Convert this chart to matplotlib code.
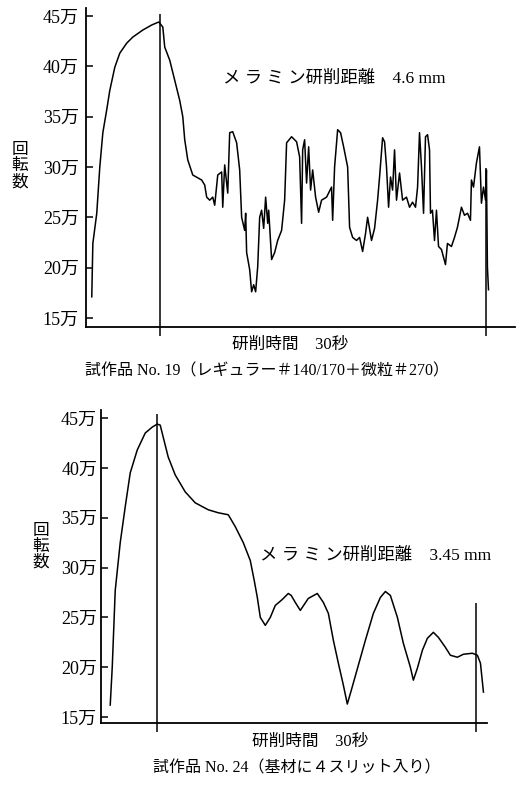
import matplotlib.pyplot as plt

plt.rcParams['font.family'] = ['Liberation Serif', 'Noto Sans CJK JP']

# 試作品 No.19 : time (s) vs spindle speed (万 rpm)
t19 = [-6.26, -6.16, -5.80, -5.52, -5.24, -4.88, -4.60, -4.14, -3.68, -3.04,
       -2.48, -1.56, -0.74, -0.09, 0.28, 0.46, 0.92, 1.38, 1.84, 2.12,
       2.30, 2.58, 3.04, 3.86, 4.14, 4.32, 4.60, 4.88, 5.06, 5.34,
       5.70, 5.80, 5.98, 6.26, 6.44, 6.72, 7.08, 7.36, 7.54, 7.82,
       7.91, 8.00, 8.28, 8.46, 8.65, 8.83, 9.02, 9.20, 9.38, 9.57,
       9.75, 9.94, 10.03, 10.30, 10.58, 10.86, 11.22, 11.50, 11.59, 11.68,
       12.14, 12.60, 12.88, 13.06, 13.16, 13.34, 13.52, 13.71, 13.89, 14.08,
       14.35, 14.63, 14.90, 15.36, 15.82, 15.92, 16.10, 16.38, 16.65, 16.93,
       17.30, 17.48, 17.76, 18.12, 18.40, 18.68, 18.95, 19.14, 19.50, 19.78,
       20.06, 20.24, 20.52, 20.70, 20.88, 21.07, 21.25, 21.44, 21.62, 21.80,
       22.08, 22.36, 22.72, 23.00, 23.28, 23.55, 23.74, 23.92, 24.10, 24.29,
       24.47, 24.66, 24.84, 24.93, 25.11, 25.30, 25.48, 25.67, 25.94, 26.31,
       26.49, 26.86, 27.14, 27.41, 27.78, 28.06, 28.34, 28.61, 28.70, 28.89,
       29.16, 29.44, 29.62, 29.81, 30.00, 30.08, 30.17, 30.27]
rpm19 = [17.1, 22.4, 25.4, 30.0, 33.4, 35.7, 37.6, 39.9, 41.3, 42.3,
         42.9, 43.6, 44.1, 44.4, 43.9, 41.9, 40.6, 38.6, 36.6, 35.0,
         32.7, 30.7, 29.2, 28.7, 28.2, 27.0, 26.7, 27.0, 26.2, 29.2,
         29.5, 26.0, 30.2, 27.4, 33.4, 33.5, 32.4, 29.7, 25.0, 23.7,
         25.4, 21.5, 19.8, 17.6, 18.3, 17.6, 20.1, 25.0, 25.7, 23.9,
         27.0, 24.4, 25.7, 20.8, 21.5, 22.7, 23.7, 26.7, 29.4, 32.4,
         33.0, 32.5, 31.0, 24.4, 31.7, 32.7, 28.4, 32.0, 27.7, 29.7,
         27.0, 25.5, 26.7, 27.0, 28.0, 24.7, 30.0, 33.7, 33.4, 32.0,
         30.0, 24.0, 23.0, 22.7, 23.0, 21.6, 23.4, 25.0, 22.7, 23.9,
         26.7, 29.0, 32.9, 32.5, 30.0, 26.0, 29.0, 27.7, 31.7, 26.7,
         29.4, 26.7, 27.0, 26.0, 26.5, 26.0, 28.0, 33.4, 30.0, 25.4,
         33.0, 33.2, 31.7, 25.4, 25.7, 22.7, 25.7, 22.1, 21.8, 20.3,
         22.4, 22.1, 23.0, 24.0, 26.0, 25.2, 25.4, 24.7, 28.7, 28.0,
         30.4, 32.0, 26.4, 28.0, 26.7, 29.7, 20.1, 17.8]

# 試作品 No.24
t24 = [-4.42, -4.23, -3.95, -3.48, -3.01, -2.54, -1.88, -1.13, -0.47, 0.00,
       0.28, 0.56, 1.03, 1.69, 2.63, 3.57, 4.80, 5.74, 6.68, 7.34,
       8.09, 8.75, 9.12, 9.41, 9.69, 10.16, 10.63, 11.10, 11.76, 12.32,
       12.60, 12.98, 13.45, 14.20, 15.05, 15.62, 16.09, 16.56, 17.03, 17.50,
       17.87, 18.25, 18.91, 19.57, 20.32, 20.98, 21.45, 21.92, 22.58, 23.14,
       23.80, 24.08, 24.46, 24.93, 25.40, 25.96, 26.43, 27.09, 27.56, 28.22,
       28.79, 29.63, 30.10, 30.39, 30.67]
rpm24 = [16.2, 20.0, 27.7, 32.5, 36.1, 39.5, 41.8, 43.5, 44.1, 44.4,
         44.3, 43.1, 41.1, 39.3, 37.6, 36.5, 35.8, 35.5, 35.3, 34.1,
         32.5, 30.7, 28.7, 27.0, 25.0, 24.2, 25.0, 26.2, 26.8, 27.4,
         27.2, 26.5, 25.7, 26.9, 27.4, 26.5, 25.4, 22.7, 20.4, 18.2,
         16.3, 17.7, 20.2, 22.7, 25.4, 27.0, 27.6, 27.2, 25.0, 22.4,
         20.0, 18.7, 19.9, 21.7, 22.9, 23.5, 23.0, 22.0, 21.2, 21.0,
         21.3, 21.4, 21.2, 20.4, 17.5]

yticks = [15, 20, 25, 30, 35, 40, 45]
ytick_labels = [f'{v}万' for v in yticks]
grind_start, grind_end = 0, 30

fig = plt.figure(figsize=(5.27, 7.88), dpi=100)


def panel(rect, t, rpm, xlim, ylim, end_top, start_top, note, note_xy, pad):
    ax = fig.add_axes(rect)
    ax.plot(t, rpm, color='black', lw=1.1)
    ax.set_xlim(*xlim)
    ax.set_ylim(*ylim)
    ax.set_yticks(yticks)
    ax.set_yticklabels(ytick_labels)
    ax.set_xticks([])
    ax.tick_params(axis='y', direction='in', length=5, width=1.1,
                   labelsize=13, pad=pad)
    for s in ('top', 'right'):
        ax.spines[s].set_visible(False)
    for s in ('left', 'bottom'):
        ax.spines[s].set_linewidth(1.3)
    low = ylim[0] - 0.9
    ax.vlines(grind_start, low, start_top, color='black', lw=1.1, clip_on=False)
    ax.vlines(grind_end, low, end_top, color='black', lw=1.1, clip_on=False)
    ax.text(*note_xy, note, fontsize=12.5, ha='left', va='center')
    return ax


panel([0.163, 0.585, 0.814, 0.405], t19, rpm19, (-6.8, 32.7), (14.1, 45.8),
      29.9, 45.2, 'メ ラ ミ ン研削距離　4.6 mm', (5.8, 38.7), 5)
panel([0.192, 0.0825, 0.732, 0.397], t24, rpm24, (-5.27, 31.0), (14.4, 45.8),
      26.4, 45.4, 'メ ラ ミ ン研削距離　3.45 mm', (9.7, 31.2), 3)

fig.text(0.038, 0.789, '回\n転\n数', fontsize=12, ha='center', va='center',
         linespacing=1.0)
fig.text(0.078, 0.306, '回\n転\n数', fontsize=12, ha='center', va='center',
         linespacing=1.0)

fig.text(0.551, 0.562, '研削時間　30秒', fontsize=12, ha='center', va='center')
fig.text(0.507, 0.528, '試作品 No. 19（レギュラー＃140/170＋微粒＃270）',
         fontsize=11.5, ha='center', va='center')
fig.text(0.588, 0.058, '研削時間　30秒', fontsize=12, ha='center', va='center')
fig.text(0.563, 0.025, '試作品 No. 24（基材に４スリット入り）',
         fontsize=11.5, ha='center', va='center')

fig.savefig('out.png', dpi=100)
